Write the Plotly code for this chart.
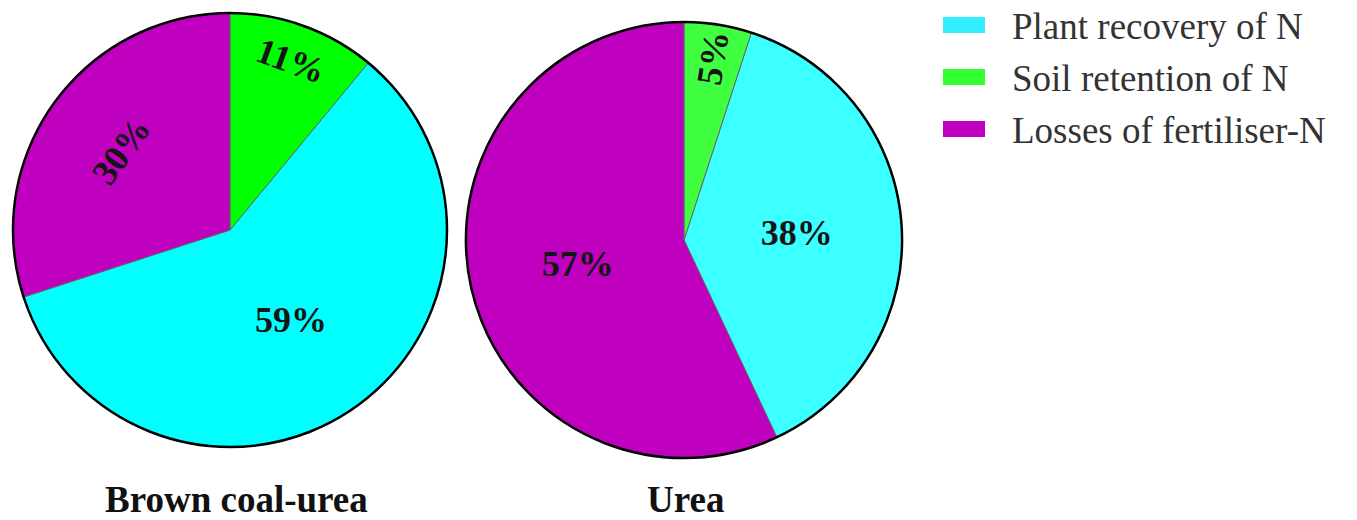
import plotly.graph_objects as go

categories = ["Plant recovery of N", "Soil retention of N", "Losses of fertiliser-N"]
brown_coal_urea = [59, 11, 30]
urea = [38, 5, 57]
pie_titles = ["Brown coal-urea", "Urea"]

colors_left = ["#00FFFF", "#00FF00", "#BF00BF"]
colors_right = ["#3CFFFF", "#40FF40", "#BF00BF"]
legend_colors = ["#33EEFF", "#33FF33", "#C000C0"]
orient_left = ["horizontal", "tangential", "tangential"]
orient_right = ["horizontal", "radial", "horizontal"]

W, H = 1357, 520


def px(xp):
    return xp / W


def py(yp):
    return 1 - yp / H


def px_dom(x0, x1, y0, y1):
    return dict(x=[px(x0), px(x1)], y=[py(y1), py(y0)])


dom_left = px_dom(13, 447, 13, 447)
dom_right = px_dom(466, 902, 22, 458)


def start_rotation(vals):
    # counterclockwise: first slice ends at the rotation angle,
    # so the second slice ends exactly at 12 o'clock
    return vals[1] / sum(vals) * 360


fig = go.Figure()
clear = "rgba(0,0,0,0)"

for vals, cols, dom, orients in [(brown_coal_urea, colors_left, dom_left, orient_left),
                                 (urea, colors_right, dom_right, orient_right)]:
    rot = start_rotation(vals)
    # coloured slices
    fig.add_trace(go.Pie(
        labels=categories, values=vals, sort=False,
        direction="counterclockwise", rotation=rot, domain=dom,
        marker=dict(colors=cols, line=dict(color="#666666", width=1)),
        textinfo="none", showlegend=False, hoverinfo="label+value",
    ))
    # one text layer per slice so each label gets its own orientation
    for k, orient in enumerate(orients):
        tmpl = ["%{value}%" if i == k else "" for i in range(len(vals))]
        fig.add_trace(go.Pie(
            labels=categories, values=vals, sort=False,
            direction="counterclockwise", rotation=rot, domain=dom,
            marker=dict(colors=[clear] * len(vals), line=dict(width=0)),
            texttemplate=tmpl, textposition="inside",
            insidetextorientation=orient,
            textfont=dict(family="Liberation Serif", size=36, color="#151515", weight="bold"),
            showlegend=False, hoverinfo="skip",
        ))
    # outer black rim
    fig.add_trace(go.Pie(
        labels=["total"], values=[sum(vals)], sort=False, domain=dom,
        marker=dict(colors=[clear], line=dict(color="#000000", width=2.5)),
        textinfo="none", showlegend=False, hoverinfo="skip",
    ))

annotations = []
shapes = []
# pie titles
for title, cx, cy in [(pie_titles[0], 236, 499), (pie_titles[1], 685, 499)]:
    annotations.append(dict(
        text=title, x=px(cx), y=py(cy), xref="paper", yref="paper",
        showarrow=False, xanchor="center", yanchor="middle",
        font=dict(family="Liberation Serif", size=37, color="#111111", weight="bold"),
    ))

# custom legend
for i, (name, col) in enumerate(zip(categories, legend_colors)):
    yc = 25 + i * 52
    shapes.append(dict(
        type="rect", xref="paper", yref="paper",
        x0=px(943), x1=px(985), y0=py(yc + 8), y1=py(yc - 8),
        fillcolor=col, line=dict(width=0),
    ))
    annotations.append(dict(
        text=name, x=px(1010), y=py(yc + 1), xref="paper", yref="paper",
        showarrow=False, xanchor="left", yanchor="middle",
        font=dict(family="Liberation Serif", size=37, color="#333333"),
    ))

fig.update_layout(
    width=W, height=H,
    margin=dict(l=0, r=0, t=0, b=0),
    paper_bgcolor="white", plot_bgcolor="white",
    annotations=annotations, shapes=shapes,
)

fig.write_html("out.html", config={"displayModeBar": False},
               post_script="document.body.style.margin='0px';")
